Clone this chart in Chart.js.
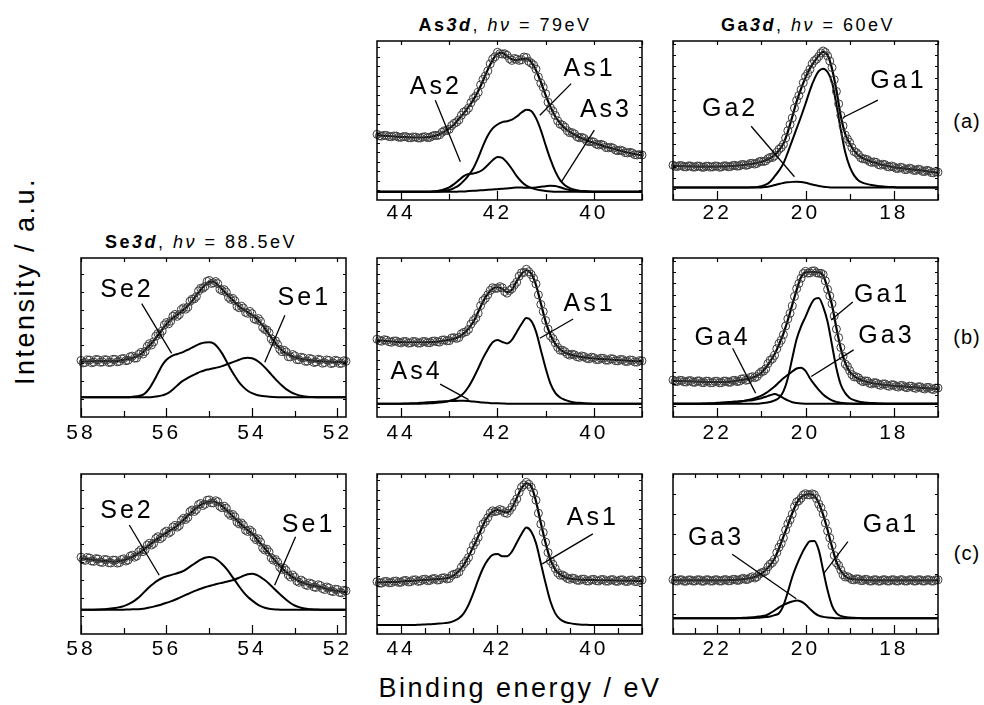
<!DOCTYPE html>
<html>
<head>
<meta charset="utf-8">
<title>XPS core levels</title>
<script src="https://cdn.jsdelivr.net/npm/chart.js@4.4.1/dist/chart.umd.min.js"></script>
<style>
  body { margin: 0; background: #fff; }
  #fig { position: relative; width: 984px; height: 705px; overflow: hidden; font-family: "Liberation Sans", Arial, sans-serif; color: #000; }
  #fig canvas { position: absolute; }
  .txt { position: absolute; white-space: nowrap; transform: translate(-50%, -50%); }
  .ttl { font-size: 18px; letter-spacing: 2.5px; }
  .row { font-size: 20px; letter-spacing: 1px; }
  .axis { font-size: 27px; letter-spacing: 2.5px; }
</style>
</head>
<body>
<div id="fig">
  <div class="txt ttl" style="left:505px;top:25px"><b>As<i>3d</i></b>, <i>hν</i> = 79eV</div>
  <div class="txt ttl" style="left:808px;top:25px"><b>Ga<i>3d</i></b>, <i>hν</i> = 60eV</div>
  <div class="txt ttl" style="left:201px;top:242px"><b>Se<i>3d</i></b>, <i>hν</i> = 88.5eV</div>
  <div class="txt row" style="left:967px;top:121px">(a)</div>
  <div class="txt row" style="left:967px;top:337px">(b)</div>
  <div class="txt row" style="left:967px;top:553px">(c)</div>
  <div class="txt axis" style="left:25px;top:281px;transform:translate(-50%,-50%) rotate(-90deg)">Intensity / a.u.</div>
  <div class="txt axis" style="left:520px;top:688px">Binding energy / eV</div>
</div>
<script>
// binding energy grids (eV) for the fitted curves
const asX = [44.5,44.4,44.3,44.2,44.1,44.0,43.9,43.8,43.7,43.6,43.5,43.4,43.3,43.2,43.1,43.0,42.9,42.8,42.7,42.6,
  42.5,42.4,42.3,42.2,42.1,42.0,41.9,41.8,41.7,41.6,41.5,41.4,41.3,41.2,41.1,41.0,40.9,40.8,40.7,40.6,
  40.5,40.4,40.3,40.2,40.1,40.0,39.9,39.8,39.7,39.6,39.5,39.4,39.3,39.2,39.1,39.0];
const gaX = [23.0,22.9,22.8,22.7,22.6,22.5,22.4,22.3,22.2,22.1,22.0,21.9,21.8,21.7,21.6,21.5,21.4,21.3,21.2,21.1,
  21.0,20.9,20.8,20.7,20.6,20.5,20.4,20.3,20.2,20.1,20.0,19.9,19.8,19.7,19.6,19.5,19.4,19.3,19.2,19.1,
  19.0,18.9,18.8,18.7,18.6,18.5,18.4,18.3,18.2,18.1,18.0,17.9,17.8,17.7,17.6,17.5,17.4,17.3,17.2,17.1,17.0];
const seX = [58.0,57.9,57.8,57.7,57.6,57.5,57.4,57.3,57.2,57.1,57.0,56.9,56.8,56.7,56.6,56.5,56.4,56.3,56.2,56.1,
  56.0,55.9,55.8,55.7,55.6,55.5,55.4,55.3,55.2,55.1,55.0,54.9,54.8,54.7,54.6,54.5,54.4,54.3,54.2,54.1,
  54.0,53.9,53.8,53.7,53.6,53.5,53.4,53.3,53.2,53.1,53.0,52.9,52.8,52.7,52.6,52.5,52.4,52.3,52.2,52.1,
  52.0,51.9,51.8];

// binding energy grids (eV) for the measured points
const asXd = [44.50,44.45,44.40,44.35,44.30,44.25,44.20,44.15,44.10,44.05,
  44.00,43.95,43.90,43.85,43.80,43.75,43.70,43.65,43.60,43.55,
  43.50,43.45,43.40,43.35,43.30,43.25,43.20,43.15,43.10,43.05,
  43.00,42.95,42.90,42.85,42.80,42.75,42.70,42.65,42.60,42.55,
  42.50,42.45,42.40,42.35,42.30,42.25,42.20,42.15,42.10,42.05,
  42.00,41.95,41.90,41.85,41.80,41.75,41.70,41.65,41.60,41.55,
  41.50,41.45,41.40,41.35,41.30,41.25,41.20,41.15,41.10,41.05,
  41.00,40.95,40.90,40.85,40.80,40.75,40.70,40.65,40.60,40.55,
  40.50,40.45,40.40,40.35,40.30,40.25,40.20,40.15,40.10,40.05,
  40.00,39.95,39.90,39.85,39.80,39.75,39.70,39.65,39.60,39.55,
  39.50,39.45,39.40,39.35,39.30,39.25,39.20,39.15,39.10,39.05,
  39.00];
const gaXd = [23.00,22.95,22.90,22.85,22.80,22.75,22.70,22.65,22.60,22.55,
  22.50,22.45,22.40,22.35,22.30,22.25,22.20,22.15,22.10,22.05,
  22.00,21.95,21.90,21.85,21.80,21.75,21.70,21.65,21.60,21.55,
  21.50,21.45,21.40,21.35,21.30,21.25,21.20,21.15,21.10,21.05,
  21.00,20.95,20.90,20.85,20.80,20.75,20.70,20.65,20.60,20.55,
  20.50,20.45,20.40,20.35,20.30,20.25,20.20,20.15,20.10,20.05,
  20.00,19.95,19.90,19.85,19.80,19.75,19.70,19.65,19.60,19.55,
  19.50,19.45,19.40,19.35,19.30,19.25,19.20,19.15,19.10,19.05,
  19.00,18.95,18.90,18.85,18.80,18.75,18.70,18.65,18.60,18.55,
  18.50,18.45,18.40,18.35,18.30,18.25,18.20,18.15,18.10,18.05,
  18.00,17.95,17.90,17.85,17.80,17.75,17.70,17.65,17.60,17.55,
  17.50,17.45,17.40,17.35,17.30,17.25,17.20,17.15,17.10,17.05,
  17.00];
const seXd = [58.00,57.95,57.90,57.85,57.80,57.75,57.70,57.65,57.60,57.55,
  57.50,57.45,57.40,57.35,57.30,57.25,57.20,57.15,57.10,57.05,
  57.00,56.95,56.90,56.85,56.80,56.75,56.70,56.65,56.60,56.55,
  56.50,56.45,56.40,56.35,56.30,56.25,56.20,56.15,56.10,56.05,
  56.00,55.95,55.90,55.85,55.80,55.75,55.70,55.65,55.60,55.55,
  55.50,55.45,55.40,55.35,55.30,55.25,55.20,55.15,55.10,55.05,
  55.00,54.95,54.90,54.85,54.80,54.75,54.70,54.65,54.60,54.55,
  54.50,54.45,54.40,54.35,54.30,54.25,54.20,54.15,54.10,54.05,
  54.00,53.95,53.90,53.85,53.80,53.75,53.70,53.65,53.60,53.55,
  53.50,53.45,53.40,53.35,53.30,53.25,53.20,53.15,53.10,53.05,
  53.00,52.95,52.90,52.85,52.80,52.75,52.70,52.65,52.60,52.55,
  52.50,52.45,52.40,52.35,52.30,52.25,52.20,52.15,52.10,52.05,
  52.00,51.95,51.90,51.85,51.80];

// ---- (a) As3d
const asA_data = [41.3,40.4,40.2,40.7,40.6,39.9,39.8,40.3,40.2,39.5,
  39.4,39.9,39.9,39.2,39.1,39.6,39.6,39.0,39.0,39.6,
  39.8,39.2,39.4,40.2,40.7,40.5,41.0,42.6,43.6,43.7,
  44.5,46.8,48.2,48.9,50.4,53.3,55.3,56.1,57.8,61.2,
  63.9,65.2,67.7,72.4,75.8,78.0,81.2,85.6,88.7,90.1,
  92.9,92.0,91.8,92.0,91.0,88.9,87.8,88.9,88.6,87.8,
  88.2,89.9,89.6,87.2,86.1,84.9,82.3,77.3,73.5,70.9,
  66.8,61.5,57.9,56.0,53.2,49.8,47.7,47.1,45.8,43.5,
  42.3,42.4,41.5,39.8,39.1,39.4,38.7,37.2,36.6,36.9,
  36.4,35.1,34.6,35.0,34.4,33.1,32.8,33.2,32.6,31.4,
  31.0,31.4,30.9,29.8,29.6,30.0,29.5,28.5,28.3,28.6,
  28.3];
const asA_fit = [40.8,40.5,40.3,40.1,39.9,39.7,39.5,39.4,39.3,39.3,
  39.4,39.7,40.3,41.4,43.0,45.0,47.5,51.0,54.5,58.5,
  63.0,68.5,75.0,82.0,88.0,92.0,92.5,90.4,88.5,88.0,
  88.8,88.9,86.8,81.6,74.3,66.0,58.6,52.5,48.3,45.2,
  42.8,41.0,39.5,38.2,37.0,36.0,35.0,34.0,33.1,32.2,
  31.4,30.6,29.9,29.2,28.6,28.0];
const asA_as1 = [5.2,5.2,5.2,5.2,5.2,5.2,5.2,5.2,5.2,5.2,
  5.2,5.2,5.2,5.4,5.8,6.3,7.5,9.2,12.0,15.5,
  20.0,26.5,34.0,40.5,45.0,47.5,49.0,49.5,50.5,52.5,
  55.0,56.8,56.0,51.5,44.0,34.5,25.5,18.0,12.5,9.3,
  7.5,6.5,5.9,5.6,5.4,5.2,5.2,5.2,5.2,5.2,
  5.2,5.2,5.2,5.2,5.2,5.2];
const asA_as2 = [5.2,5.2,5.2,5.2,5.2,5.2,5.2,5.2,5.2,5.2,
  5.2,5.2,5.5,6.0,6.8,8.0,10.0,12.5,15.0,16.3,
  16.7,17.5,19.2,22.0,25.0,27.0,26.5,23.5,19.5,15.0,
  11.5,9.0,7.6,6.7,6.1,5.7,5.4,5.2,5.2,5.2,
  5.2,5.2,5.2,5.2,5.2,5.2,5.2,5.2,5.2,5.2,
  5.2,5.2,5.2,5.2,5.2,5.2];
const asA_as3 = [5.2,5.2,5.2,5.2,5.2,5.2,5.2,5.2,5.2,5.2,
  5.2,5.2,5.2,5.2,5.2,5.2,5.2,5.3,5.4,5.6,
  5.8,6.0,6.2,6.4,6.6,6.8,7.0,7.3,7.6,7.8,
  7.8,7.7,7.7,7.9,8.3,8.7,9.0,8.8,8.0,7.0,
  6.3,5.8,5.5,5.3,5.2,5.2,5.2,5.2,5.2,5.2,
  5.2,5.2,5.2,5.2,5.2,5.2];

// ---- (a) Ga3d
const gaA_data = [21.9,21.2,21.0,21.7,21.6,20.9,20.8,21.5,21.4,20.7,
  20.7,21.4,21.3,20.6,20.6,21.3,21.3,20.7,20.8,21.4,
  21.3,20.6,20.8,21.5,21.5,20.9,21.0,21.7,21.8,21.3,
  21.4,22.3,22.3,21.8,22.1,23.0,23.1,22.6,23.0,24.1,
  24.4,24.2,24.6,26.0,26.8,26.7,27.8,30.0,31.9,33.0,
  35.0,39.0,43.6,47.5,51.6,57.8,62.7,65.7,69.4,73.8,
  77.6,79.6,82.2,85.6,87.6,88.6,90.3,92.5,93.7,92.8,
  90.6,87.4,83.3,75.6,68.3,60.5,53.2,46.6,40.8,38.3,
  36.2,33.0,30.5,29.8,28.5,26.6,25.9,25.8,25.4,24.2,
  23.6,24.0,23.7,22.3,21.9,22.5,22.2,21.0,20.8,21.4,
  20.9,19.9,19.8,20.6,20.3,19.1,19.2,20.0,19.7,18.6,
  18.6,19.4,19.1,18.0,17.9,18.7,18.3,17.2,17.1,17.9,
  17.5];
const gaA_fit = [21.5,21.4,21.3,21.2,21.1,21.0,21.0,21.0,21.0,21.0,
  21.0,21.1,21.2,21.3,21.5,21.7,22.0,22.4,22.8,23.4,
  24.0,25.0,26.3,28.3,31.3,35.5,42.9,52.3,62.0,70.0,
  77.0,82.8,87.0,90.8,93.1,91.2,82.6,69.0,52.5,41.5,
  35.6,31.0,28.0,26.3,25.0,24.0,23.3,22.3,21.8,21.2,
  20.5,20.2,19.9,19.6,19.3,19.0,18.7,18.3,17.9,17.5,
  17.1];
const gaA_ga1 = [7.9,7.9,7.9,7.9,7.9,7.9,7.9,7.9,7.9,7.9,
  7.9,7.9,7.9,7.9,7.9,7.9,7.9,7.9,8.0,8.2,
  8.6,9.6,11.5,14.8,18.5,23.0,30.0,37.5,45.0,52.5,
  60.5,69.0,76.0,81.0,82.6,80.5,74.0,60.0,44.0,30.0,
  21.0,15.5,12.3,10.8,10.0,9.4,9.0,8.6,8.4,8.2,
  8.1,7.9,7.9,7.9,7.9,7.9,7.9,7.9,7.9,7.9,
  7.9];
const gaA_ga2 = [7.9,7.9,7.9,7.9,7.9,7.9,7.9,7.9,7.9,7.9,
  7.9,7.9,7.9,7.9,7.9,7.9,7.9,7.9,7.9,7.9,
  7.9,8.2,8.7,9.4,10.1,10.7,11.1,11.4,11.5,11.3,
  10.8,10.1,9.4,8.8,8.4,8.1,7.9,7.9,7.9,7.9,
  7.9,7.9,7.9,7.9,7.9,7.9,7.9,7.9,7.9,7.9,
  7.9,7.9,7.9,7.9,7.9,7.9,7.9,7.9,7.9,7.9,
  7.9];

// ---- (b) Se3d
const seB_data = [35.6,34.0,34.3,35.9,35.8,34.1,34.5,36.2,36.0,34.4,
  34.6,36.1,35.9,34.3,34.4,36.3,36.2,34.7,35.0,36.6,
  36.8,35.4,35.7,37.9,38.3,37.0,37.1,39.4,40.6,39.6,
  41.2,44.4,46.1,45.3,47.2,50.8,52.5,52.0,54.1,57.9,
  59.4,58.6,60.3,63.4,64.5,63.3,64.4,67.5,68.6,67.8,
  69.1,72.8,74.1,74.3,75.8,79.3,81.0,80.9,82.1,85.3,
  85.9,84.0,84.4,85.2,83.9,80.4,79.5,80.1,78.5,75.3,
  74.0,74.6,73.1,69.6,68.7,69.7,68.5,65.8,65.2,66.4,
  65.0,61.8,61.1,61.9,60.2,56.3,55.0,54.7,53.0,49.2,
  47.4,47.9,45.6,42.6,41.1,42.0,40.9,37.9,37.8,39.3,
  38.5,36.1,36.0,37.6,37.2,35.0,35.1,36.8,36.4,34.3,
  34.6,36.3,35.9,33.8,34.2,35.9,35.6,33.6,34.0,35.7,
  35.3,33.6,33.8,35.4,35.0];
const seB_fit = [34.8,34.9,35.0,35.1,35.2,35.2,35.2,35.2,35.3,35.5,
  35.9,36.5,37.2,38.0,39.5,42.0,45.0,48.0,51.4,55.0,
  58.3,61.2,63.3,65.3,67.5,70.0,73.0,76.6,80.0,83.0,
  85.0,85.2,83.0,80.4,77.6,74.8,72.2,69.5,67.6,66.0,
  64.2,62.0,59.2,55.8,52.0,48.3,44.8,42.0,40.0,38.7,
  37.6,36.8,36.3,35.9,35.6,35.3,35.1,34.9,34.8,34.7,
  34.6,34.5,34.4];
const seB_se2 = [12.5,12.5,12.5,12.5,12.5,12.5,12.5,12.5,12.5,12.5,
  12.5,12.5,12.7,13.0,13.5,15.0,18.0,22.5,27.5,32.5,
  36.0,38.0,39.2,40.0,41.0,42.3,43.6,45.0,46.2,46.9,
  47.0,46.3,43.8,40.0,35.2,30.2,25.8,21.8,18.8,16.5,
  15.0,14.0,13.4,13.0,12.8,12.6,12.5,12.5,12.5,12.5,
  12.5,12.5,12.5,12.5,12.5,12.5,12.5,12.5,12.5,12.5,
  12.5,12.5,12.5];
const seB_se1 = [12.5,12.5,12.5,12.5,12.5,12.5,12.5,12.5,12.5,12.5,
  12.5,12.5,12.5,12.5,12.5,12.5,12.5,12.7,13.0,13.6,
  14.5,16.2,18.5,21.0,23.0,24.6,26.0,27.3,28.5,29.4,
  30.0,30.6,31.2,32.0,33.0,34.0,35.0,36.0,36.9,37.3,
  37.0,35.8,33.8,31.2,28.3,25.3,22.4,19.8,17.5,15.8,
  14.5,13.6,13.1,12.8,12.6,12.5,12.5,12.5,12.5,12.5,
  12.5,12.5,12.5];

// ---- (b) As3d
const asB_data = [48.9,48.0,47.7,48.6,48.3,47.3,47.0,47.8,47.8,46.9,
  46.6,47.5,47.5,46.5,46.6,47.5,47.4,46.5,46.5,47.5,
  47.5,46.7,46.7,47.7,47.8,47.3,47.1,48.4,48.5,47.9,
  48.0,49.7,49.9,49.4,50.0,52.3,53.2,53.6,55.1,58.4,
  60.6,62.2,65.3,70.0,73.2,74.7,76.9,79.6,81.3,80.9,
  81.0,82.0,81.3,78.9,77.9,79.6,80.7,83.0,84.8,88.6,
  90.7,90.9,92.9,91.4,89.6,87.2,83.7,76.8,70.8,66.3,
  60.7,55.3,50.9,49.3,46.6,43.8,42.0,42.0,41.1,39.6,
  38.9,39.5,39.1,37.9,37.5,38.4,38.0,36.9,36.6,37.6,
  37.3,36.1,36.1,37.0,36.9,35.8,35.7,36.7,36.5,35.4,
  35.3,36.2,36.1,35.0,34.9,35.9,35.7,34.6,34.5,35.5,
  35.3];
const asB_fit = [48.4,48.1,47.8,47.5,47.3,47.1,47.0,47.0,47.0,47.0,
  47.0,47.1,47.3,47.6,48.0,48.5,49.3,50.5,52.6,55.7,
  59.9,66.0,72.5,77.5,80.6,81.6,80.6,78.5,80.0,85.5,
  90.0,92.3,90.2,83.0,71.5,60.0,51.6,46.0,42.6,40.6,
  39.4,38.6,38.0,37.5,37.1,36.8,36.6,36.4,36.2,36.0,
  35.8,35.6,35.4,35.2,35.0,34.8];
const asB_as1 = [8.4,8.4,8.4,8.4,8.4,8.4,8.4,8.4,8.4,8.4,
  8.5,8.6,8.8,9.1,9.5,10.1,11.0,12.6,15.0,19.0,
  24.4,30.5,37.0,42.5,47.0,48.4,47.2,46.3,48.5,53.5,
  58.5,62.2,60.5,53.7,42.2,30.7,21.0,15.2,12.3,10.8,
  9.8,9.2,8.9,8.7,8.5,8.4,8.4,8.4,8.4,8.4,
  8.4,8.4,8.4,8.4,8.4,8.4];
const asB_as4 = [8.4,8.4,8.4,8.4,8.4,8.4,8.5,8.6,8.7,8.9,
  9.1,9.3,9.5,9.7,9.9,10.0,10.1,10.2,10.2,10.0,
  9.7,9.4,9.1,8.9,8.7,8.6,8.5,8.4,8.4,8.4,
  8.4,8.4,8.4,8.4,8.4,8.4,8.4,8.4,8.4,8.4,
  8.4,8.4,8.4,8.4,8.4,8.4,8.4,8.4,8.4,8.4,
  8.4,8.4,8.4,8.4,8.4,8.4];

// ---- (b) Ga3d
const gaB_data = [23.3,22.4,22.3,23.1,23.0,22.1,22.0,22.8,22.9,21.9,
  21.8,22.7,22.7,21.7,21.6,22.6,22.5,21.5,21.6,22.5,
  22.5,21.5,21.6,22.6,22.6,21.9,21.8,22.9,23.1,22.3,
  22.5,23.9,24.1,23.1,23.4,24.9,25.4,24.7,25.4,27.2,
  28.5,28.8,30.3,33.6,35.7,36.6,38.8,42.9,46.2,48.3,
  51.8,57.2,61.7,65.2,69.8,75.8,80.7,84.0,87.3,90.3,
  91.6,90.5,90.6,91.8,91.9,90.7,90.4,90.4,89.6,85.6,
  80.3,76.2,71.2,63.6,55.3,49.9,43.7,38.2,33.3,31.8,
  29.2,26.7,25.2,25.3,24.6,23.1,22.2,22.7,22.6,21.2,
  20.8,21.6,21.5,20.4,19.9,20.8,20.8,19.7,19.3,20.3,
  20.2,19.2,18.8,19.8,19.8,18.8,18.4,19.4,19.4,18.4,
  18.0,19.0,19.0,18.0,17.6,18.6,18.6,17.6,17.2,18.2,
  18.2];
const gaB_fit = [22.8,22.7,22.6,22.5,22.4,22.3,22.2,22.1,22.0,22.0,
  22.0,22.0,22.1,22.3,22.6,23.0,23.5,24.0,24.8,26.0,
  27.8,31.0,35.0,39.5,45.5,52.5,61.0,70.5,80.0,88.0,
  91.0,91.2,91.2,91.0,89.0,81.0,70.5,56.0,43.0,34.0,
  28.6,25.8,24.0,22.8,22.0,21.4,20.9,20.5,20.2,19.9,
  19.6,19.4,19.2,19.0,18.8,18.6,18.4,18.2,18.0,17.8,
  17.7];
const gaB_ga1 = [8.4,8.4,8.4,8.4,8.4,8.4,8.4,8.4,8.4,8.4,
  8.4,8.4,8.4,8.4,8.4,8.4,8.4,8.4,8.4,8.4,
  8.6,8.9,9.4,10.4,12.0,16.1,24.4,37.0,49.0,57.0,
  63.0,69.5,74.0,74.8,69.3,59.9,45.3,30.7,20.3,15.0,
  12.0,10.6,9.8,9.3,9.0,8.8,8.6,8.5,8.4,8.4,
  8.4,8.4,8.4,8.4,8.4,8.4,8.4,8.4,8.4,8.4,
  8.4];
const gaB_ga3 = [8.4,8.4,8.4,8.4,8.4,8.4,8.4,8.4,8.4,8.4,
  8.4,8.5,8.7,8.9,9.2,9.6,10.1,10.7,11.4,12.3,
  13.4,15.0,17.0,19.2,21.8,24.4,26.5,28.6,30.5,31.0,
  29.0,24.4,20.5,17.1,14.2,12.0,10.5,9.5,9.0,8.7,
  8.5,8.4,8.4,8.4,8.4,8.4,8.4,8.4,8.4,8.4,
  8.4,8.4,8.4,8.4,8.4,8.4,8.4,8.4,8.4,8.4,
  8.4];
const gaB_ga4 = [8.4,8.4,8.4,8.4,8.4,8.4,8.4,8.5,8.6,8.7,
  8.9,9.1,9.3,9.5,9.7,9.9,10.1,10.3,10.6,11.1,
  11.8,12.7,13.7,14.4,13.5,11.9,10.4,9.3,8.8,8.5,
  8.4,8.4,8.4,8.4,8.4,8.4,8.4,8.4,8.4,8.4,
  8.4,8.4,8.4,8.4,8.4,8.4,8.4,8.4,8.4,8.4,
  8.4,8.4,8.4,8.4,8.4,8.4,8.4,8.4,8.4,8.4,
  8.4];

// ---- (c) Se3d
const seC_data = [48.0,46.4,46.0,47.8,47.5,45.6,45.4,47.1,46.9,45.0,
  44.7,46.6,46.4,44.5,44.4,46.2,46.1,44.3,44.6,46.5,
  47.0,45.6,46.2,48.6,49.3,48.0,48.7,51.3,52.6,51.5,
  52.6,55.6,56.7,55.6,56.6,59.7,60.8,59.5,60.5,63.4,
  64.3,63.0,64.0,66.9,67.8,66.8,67.8,71.0,72.3,71.6,
  72.9,76.5,77.5,76.6,77.8,80.9,81.6,80.3,81.1,83.6,
  83.8,82.0,81.9,83.3,82.7,79.8,78.9,79.9,78.6,75.4,
  74.1,74.7,73.2,70.0,68.8,69.4,68.0,64.9,64.1,65.0,
  63.8,60.4,58.9,59.5,57.5,53.8,52.5,53.0,51.2,47.6,
  46.2,46.6,44.9,41.8,40.4,41.1,39.7,36.9,35.6,36.9,
  35.5,33.1,32.3,33.7,32.8,30.8,30.3,31.8,31.3,29.4,
  29.1,30.8,30.3,28.4,27.8,29.4,28.8,26.9,26.5,28.0,
  27.8,26.0,25.7,27.3,27.0];
const seC_fit = [47.2,46.9,46.6,46.3,46.0,45.7,45.5,45.3,45.2,45.5,
  46.1,47.0,48.2,49.7,51.4,53.5,55.6,57.7,59.7,61.5,
  63.3,65.0,66.7,68.8,71.3,73.9,76.5,78.8,80.7,82.0,
  82.8,82.8,81.8,79.9,77.6,75.0,72.3,69.7,67.1,65.0,
  62.9,59.8,56.6,53.4,50.3,47.1,44.0,41.3,38.8,36.5,
  34.6,33.1,31.9,31.1,30.4,29.9,29.4,28.6,27.9,27.3,
  26.9,26.5,26.2];
const seC_se2 = [15.1,15.1,15.1,15.2,15.3,15.4,15.6,15.9,16.3,16.8,
  17.4,18.5,19.9,21.8,24.1,26.8,29.4,31.6,33.5,35.0,
  36.0,36.8,37.6,38.4,39.4,41.2,43.0,44.8,46.5,47.7,
  48.2,47.7,46.1,43.8,40.9,37.3,33.5,29.7,26.2,23.3,
  21.0,19.0,17.4,16.4,15.8,15.5,15.3,15.2,15.1,15.1,
  15.1,15.1,15.1,15.1,15.1,15.1,15.1,15.1,15.1,15.1,
  15.1,15.1,15.1];
const seC_se1 = [15.1,15.1,15.1,15.1,15.1,15.1,15.1,15.1,15.1,15.1,
  15.2,15.3,15.4,15.5,15.7,16.0,16.5,17.1,17.8,18.6,
  19.5,20.4,21.4,22.6,23.8,25.0,26.2,27.3,28.3,29.2,
  30.0,30.7,31.4,32.0,32.6,33.3,34.1,35.2,36.4,37.4,
  37.6,37.0,35.6,33.7,31.4,28.8,26.2,23.7,21.4,19.4,
  17.8,16.8,16.1,15.7,15.4,15.3,15.2,15.1,15.1,15.1,
  15.1,15.1,15.1];

// ---- (c) As3d
const asC_data = [32.7,31.9,31.8,32.8,32.9,32.0,32.1,33.0,33.1,32.2,
  32.3,33.3,33.5,32.5,32.7,33.7,33.9,32.9,33.1,34.1,
  34.3,33.3,33.5,34.5,34.7,33.7,33.9,35.0,35.2,34.4,
  34.7,36.6,37.4,37.6,38.7,41.7,43.8,45.5,47.8,51.9,
  55.3,57.6,60.4,65.2,68.7,70.3,72.7,75.6,77.0,76.5,
  76.9,77.8,77.2,75.8,75.4,77.2,79.3,82.1,84.4,88.5,
  91.8,93.2,94.8,93.6,91.7,88.2,83.6,75.5,68.7,63.5,
  57.4,50.9,45.7,43.6,40.9,38.2,36.7,36.9,36.0,34.7,
  34.2,35.0,34.7,33.6,33.5,34.3,34.3,33.2,33.1,34.0,
  34.2,33.3,33.1,34.0,34.1,33.1,33.0,33.9,34.0,33.0,
  32.9,33.8,33.9,32.9,32.8,33.7,33.8,32.8,32.7,33.6,
  33.7];
const asC_fit = [32.2,32.3,32.4,32.5,32.6,32.8,33.0,33.2,33.4,33.6,
  33.8,34.0,34.2,34.4,34.7,35.2,36.8,39.3,43.2,48.4,
  54.7,61.0,68.0,73.3,76.4,77.5,76.6,76.0,78.7,85.0,
  91.2,94.2,92.3,83.0,69.3,56.8,46.3,40.3,37.2,35.5,
  34.7,34.2,34.0,33.8,33.8,33.7,33.6,33.6,33.5,33.5,
  33.4,33.4,33.3,33.3,33.2,33.2];
const asC_as1 = [5.6,5.6,5.6,5.6,5.6,5.6,5.6,5.6,5.7,5.8,
  6.0,6.1,6.3,6.5,6.8,7.2,8.2,9.8,12.9,18.2,
  25.5,33.8,41.1,46.3,49.5,50.0,48.6,48.6,51.5,57.0,
  62.5,66.6,64.1,56.8,44.3,31.7,20.3,12.9,9.2,7.5,
  6.8,6.3,6.0,5.8,5.7,5.6,5.6,5.6,5.6,5.6,
  5.6,5.6,5.6,5.6,5.6,5.6];

// ---- (c) Ga3d
const gaC_data = [34.0,33.2,33.1,33.9,33.9,33.0,33.0,33.8,33.8,33.1,
  33.1,33.9,33.9,33.0,33.0,33.9,33.9,33.1,33.1,33.9,
  33.9,33.1,33.1,33.9,34.0,33.2,33.3,34.1,34.2,33.5,
  33.6,34.5,34.8,34.0,34.2,35.2,35.8,35.0,35.7,37.3,
  38.3,38.6,39.4,42.0,43.7,44.6,46.6,50.9,54.2,56.6,
  60.1,65.0,68.8,71.4,74.9,79.6,82.5,83.3,84.9,86.9,
  87.7,87.0,86.9,87.6,87.1,84.6,81.2,78.9,75.1,69.4,
  64.4,60.1,55.2,49.1,44.5,42.9,40.0,37.0,35.6,35.9,
  35.1,34.0,33.8,34.5,34.4,33.4,33.4,34.2,34.0,33.1,
  33.1,33.9,33.9,33.0,33.1,33.9,33.9,33.1,33.1,33.9,
  33.9,33.1,33.1,33.9,33.9,33.1,33.1,33.9,33.9,33.1,
  33.1,33.9,33.9,33.1,33.1,33.9,33.9,33.1,33.1,33.9,
  33.9];
const gaC_fit = [33.5,33.5,33.5,33.5,33.5,33.5,33.5,33.5,33.5,33.5,
  33.5,33.5,33.6,33.7,33.8,34.0,34.3,34.7,35.2,36.2,
  37.7,40.0,43.0,47.2,53.5,60.8,68.1,75.5,81.8,85.5,
  87.0,87.4,86.4,81.8,74.4,65.0,54.5,45.1,39.4,36.1,
  34.6,34.2,34.0,33.8,33.6,33.5,33.5,33.5,33.5,33.5,
  33.5,33.5,33.5,33.5,33.5,33.5,33.5,33.5,33.5,33.5,
  33.5];
const gaC_ga1 = [9.9,9.9,9.9,9.9,9.9,9.9,9.9,9.9,9.9,9.9,
  9.9,9.9,9.9,9.9,9.9,9.9,9.9,9.9,10.0,10.1,
  10.3,10.6,11.0,11.8,13.0,17.8,26.2,35.6,43.0,49.3,
  54.5,58.0,58.2,52.4,39.8,27.3,17.8,13.0,11.3,10.6,
  10.3,10.1,10.0,9.9,9.9,9.9,9.9,9.9,9.9,9.9,
  9.9,9.9,9.9,9.9,9.9,9.9,9.9,9.9,9.9,9.9,
  9.9];
const gaC_ga3 = [9.9,9.9,9.9,9.9,9.9,9.9,9.9,9.9,9.9,9.9,
  9.9,9.9,9.9,9.9,9.9,10.0,10.1,10.3,10.5,10.8,
  11.1,11.6,13.0,14.7,16.6,18.2,19.4,20.3,21.0,20.3,
  18.4,15.7,13.2,11.5,10.7,10.3,10.1,9.9,9.9,9.9,
  9.9,9.9,9.9,9.9,9.9,9.9,9.9,9.9,9.9,9.9,
  9.9,9.9,9.9,9.9,9.9,9.9,9.9,9.9,9.9,9.9,
  9.9];

// tick labels per element
const asLabels = [40, 42, 44];
const gaLabels = [18, 20, 22];
const seLabels = [52, 54, 56, 58];

// panels: box = [left, top, width, height] of the plot frame
const panels = [
  { box: [377, 41, 265, 159], x: asX, xd: asXd, min: 39, max: 44.5, labels: asLabels, minor: 1, yStep: 6, pad: 1,
    data: asA_data, fit: asA_fit, comps: [asA_as1, asA_as2, asA_as3],
    notes: [{ t: 'As2', x: 43.31, y: 71.1, l: [43.29, 62.8, 42.77, 24.1] },
            { t: 'As1', x: 40.12, y: 82.6, l: [40.47, 73.2, 41.12, 53.3] },
            { t: 'As3', x: 39.78, y: 56.5, l: [39.99, 43.9, 40.67, 11.5] }] },
  { box: [673, 41, 265, 159], x: gaX, xd: gaXd, min: 17, max: 23, labels: gaLabels, minor: 1, yStep: 7, pad: 1,
    data: gaA_data, fit: gaA_fit, comps: [gaA_ga1, gaA_ga2],
    notes: [{ t: 'Ga2', x: 21.74, y: 57.1, l: [21.23, 46.4, 20.25, 14.6] },
            { t: 'Ga1', x: 17.93, y: 74.7, l: [18.36, 62.8, 19.15, 51.9] }] },
  { box: [81, 258, 265, 159], x: seX, xd: seXd, min: 51.8, max: 58, labels: seLabels, minor: 1, yStep: 11.25, pad: 4,
    data: seB_data, fit: seB_fit, comps: [seB_se2, seB_se1],
    notes: [{ t: 'Se2', x: 56.96, y: 79.6, l: [56.58, 71.3, 55.88, 40] },
            { t: 'Se1', x: 52.81, y: 74.8, l: [53.23, 64, 53.7, 34.4] }] },
  { box: [377, 258, 265, 159], x: asX, xd: asXd, min: 39, max: 44.5, labels: asLabels, minor: 1, yStep: 6, pad: 4,
    data: asB_data, fit: asB_fit, comps: [asB_as1, asB_as4],
    notes: [{ t: 'As1', x: 40.12, y: 70.8, l: [40.43, 61.6, 41.12, 49.5] },
            { t: 'As4', x: 43.71, y: 28, l: [43.19, 20.7, 42.6, 10.9] }] },
  { box: [673, 258, 265, 159], x: gaX, xd: gaXd, min: 17, max: 23, labels: gaLabels, minor: 1, yStep: 7, pad: 4,
    data: gaB_data, fit: gaB_fit, comps: [gaB_ga1, gaB_ga3, gaB_ga4],
    notes: [{ t: 'Ga1', x: 18.3, y: 76.6, l: [18.93, 72.4, 19.42, 61] },
            { t: 'Ga3', x: 18.2, y: 50.9, l: [18.91, 42.2, 19.87, 25.5] },
            { t: 'Ga4', x: 21.91, y: 49.9, l: [21.65, 43.2, 21.13, 15] }] },
  { box: [81, 474, 265, 160], x: seX, xd: seXd, min: 51.8, max: 58, labels: seLabels, minor: 1, yStep: 11.25, pad: 3,
    data: seC_data, fit: seC_fit, comps: [seC_se2, seC_se1],
    notes: [{ t: 'Se2', x: 56.96, y: 76.9, l: [56.87, 68.1, 56.17, 36.7] },
            { t: 'Se1', x: 52.71, y: 68.1, l: [52.98, 60.8, 53.47, 30.4] }] },
  { box: [377, 474, 265, 160], x: asX, xd: asXd, min: 39, max: 44.5, labels: asLabels, minor: 0.5, yStep: 6, pad: 3,
    data: asC_data, fit: asC_fit, comps: [asC_as1],
    notes: [{ t: 'As1', x: 40.05, y: 72.4, l: [40.02, 62.6, 41.07, 43.8] }] },
  { box: [673, 474, 265, 160], x: gaX, xd: gaXd, min: 17, max: 23, labels: gaLabels, minor: 0.5, yStep: 12.5, pad: 3,
    data: gaC_data, fit: gaC_fit, comps: [gaC_ga1, gaC_ga3],
    notes: [{ t: 'Ga3', x: 22.06, y: 60.2, l: [21.66, 49.9, 20.21, 22] },
            { t: 'Ga1', x: 18.1, y: 68.1, l: [19.04, 57.7, 19.59, 37.7] }] }
];

const FONT = '"Liberation Sans", Arial, sans-serif';
const M = 25, T = 12, B = 45;

// frame, inward ticks and peak labels
function framePlugin(p) {
  return {
    id: 'frame',
    beforeDraw(chart) { chart.ctx.letterSpacing = '3px'; },
    afterDraw(chart) {
      const { ctx, chartArea: a } = chart;
      const xs = chart.scales.x, ys = chart.scales.y;
      ctx.save();
      ctx.letterSpacing = '0px';
      ctx.strokeStyle = '#000';
      ctx.lineWidth = 1.5;
      ctx.strokeRect(a.left, a.top, a.right - a.left, a.bottom - a.top);
      ctx.lineWidth = 1.2;
      ctx.beginPath();
      const k0 = Math.ceil(p.min / p.minor - 1e-6), k1 = Math.floor(p.max / p.minor + 1e-6);
      for (let k = k0; k <= k1; k++) {
        const v = k * p.minor;
        const px = Math.round(xs.getPixelForValue(v)) + 0.5;
        const len = p.labels.includes(v) ? 9 : 6;
        ctx.moveTo(px, a.bottom); ctx.lineTo(px, a.bottom - len);
        ctx.moveTo(px, a.top); ctx.lineTo(px, a.top + 4);
      }
      for (let v = p.yStep; v < 100; v += p.yStep) {
        const py = Math.round(ys.getPixelForValue(v)) + 0.5;
        ctx.moveTo(a.left, py); ctx.lineTo(a.left + 3, py);
        ctx.moveTo(a.right, py); ctx.lineTo(a.right - 3, py);
      }
      ctx.stroke();
      // peak labels with leader lines
      ctx.lineWidth = 1.3;
      p.notes.forEach(n => {
        ctx.beginPath();
        ctx.moveTo(xs.getPixelForValue(n.l[0]), ys.getPixelForValue(n.l[1]));
        ctx.lineTo(xs.getPixelForValue(n.l[2]), ys.getPixelForValue(n.l[3]));
        ctx.stroke();
      });
      ctx.font = '25px ' + FONT;
      ctx.letterSpacing = '3px';
      ctx.fillStyle = '#000';
      ctx.textAlign = 'center';
      ctx.textBaseline = 'middle';
      p.notes.forEach(n => {
        ctx.fillText(n.t, xs.getPixelForValue(n.x) + 1.5, ys.getPixelForValue(n.y));
      });
      ctx.restore();
      chart.ctx.letterSpacing = '0px';
    }
  };
}

function makePanel(p) {
  const c = document.createElement('canvas');
  c.width = p.box[2] + 2 * M;
  c.height = p.box[3] + T + B;
  c.style.left = (p.box[0] - M) + 'px';
  c.style.top = (p.box[1] - T) + 'px';
  document.getElementById('fig').appendChild(c);
  const pts = (xs, ys) => xs.map((x, i) => ({ x: x, y: ys[i] }));
  const line = ys => ({
    data: pts(p.x, ys), showLine: true, borderColor: '#000', borderWidth: 2,
    pointRadius: 0, cubicInterpolationMode: 'monotone'
  });
  const datasets = [
    { data: pts(p.xd, p.data), showLine: false, pointRadius: 4, pointBorderWidth: 1,
      pointBorderColor: '#3c3c3c', pointBackgroundColor: 'rgba(0,0,0,0)', clip: false },
    Object.assign(line(p.fit), { borderWidth: 2.2 })
  ].concat(p.comps.map(line));

  new Chart(c, {
    type: 'scatter',
    data: { datasets: datasets },
    options: {
      responsive: false,
      animation: false,
      devicePixelRatio: 1,
      events: [],
      layout: { padding: { left: M, right: M, top: T, bottom: 0 } },
      plugins: { legend: { display: false }, tooltip: { enabled: false } },
      scales: {
        x: {
          type: 'linear', min: p.min, max: p.max, reverse: true,
          grid: { display: false, drawTicks: false },
          border: { display: false },
          afterBuildTicks: s => { s.ticks = p.labels.map(v => ({ value: v })); },
          afterFit: s => { s.height = B; },
          ticks: { autoSkip: false, maxRotation: 0, padding: p.pad, color: '#000',
                   font: { family: FONT, size: 21 }, callback: v => v }
        },
        y: { type: 'linear', min: 0, max: 100, display: false }
      }
    },
    plugins: [framePlugin(p)]
  });
}

panels.forEach(makePanel);
</script>
</body>
</html>
